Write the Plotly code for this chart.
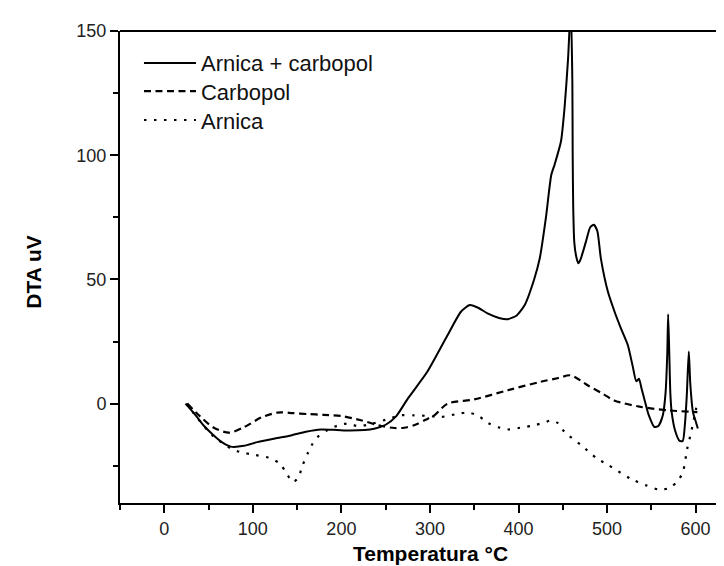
import plotly.graph_objects as go

# Arnica + carbopol (solid)
mix_t = [24, 35, 45, 55, 65, 75, 90, 105, 125, 143, 160, 177, 195, 210, 237, 250, 262, 275,
         297, 320, 335, 345, 355, 365, 378, 388, 398, 407, 418, 424, 431, 437, 441, 448, 452,
         456, 459, 460.8, 461.2, 461.8, 463, 465, 467.5, 470, 476, 481, 485, 489, 493, 501,
         508.5, 516, 523.5, 529, 533, 536, 539, 542, 547, 553.5, 558, 563, 566, 568, 569,
         570.3, 571.5, 573, 577, 582, 585.5, 588, 590, 592.3, 594, 597, 600, 602.5]
mix_v = [0, -4.5, -9, -12.5, -15.5, -17.3, -17, -15.5, -14, -12.8, -11.3, -10.4, -10.6, -10.8,
         -10.1, -8.5, -5, 2, 12.8, 27.6, 37, 39.7, 38.5, 36.3, 34.5, 34, 35.5, 39.7, 50.4, 58.5,
         75, 92, 96.5, 105.6, 119, 139, 160, 130, 100, 79, 65, 59.5, 56.5, 58, 65, 71, 72, 69.5,
         58.5, 45, 37, 30, 23.5, 15, 9, 10, 6, 2, -4.5, -9.4, -9, -4.7, 4, 20, 36, 20, 4, -3.5,
         -11, -15, -15, -8, 3, 21, 8, -3.4, -7, -10]

# Carbopol (dashed)
carb_t = [26, 40, 55, 73, 90, 110, 128, 145, 162, 180, 200, 222, 245, 260, 271, 282, 295, 305,
          320, 350, 388, 425, 445, 459, 478, 495, 508, 538, 569, 602]
carb_v = [0, -5, -9.5, -11.7, -9.5, -5.5, -3.6, -3.8, -4.2, -4.5, -5, -6.7, -9, -9.8, -9.7,
          -8.7, -6.5, -4.7, 0, 1.7, 5.4, 8.8, 10.3, 11.4, 7.4, 4, 1.3, -1.3, -2.7, -3.4]

# Arnica (dotted)
arn_t = [25, 40, 55, 75, 86, 100, 118, 130, 138, 145, 151, 156, 162, 166, 173, 185, 196, 207,
         218, 230, 250, 267, 282, 300, 312, 330, 343, 355, 365, 377, 388, 405, 418, 430, 437,
         445, 452, 471, 489, 499, 527, 545, 559, 570.6, 580, 585.6, 590.5, 595, 599, 602]
arn_v = [0, -7, -13, -18, -19.5, -20.5, -21.8, -24, -28, -31.5, -30, -25, -20, -17, -13.5,
         -10.5, -8.8, -8, -9, -8.5, -6.5, -4.7, -4.7, -5, -5.4, -4.2, -3.6, -5, -7.7, -9.5,
         -10.4, -9.5, -8.7, -7.5, -6.7, -8, -11.4, -16.8, -22.2, -24.2, -30.3, -33, -34.6,
         -33.9, -31, -27.6, -18.2, -11.4, -4.7, 0.7]

names = ["Arnica + carbopol", "Carbopol", "Arnica"]

FONT = "Liberation Sans, Arial, sans-serif"

fig = go.Figure()
fig.add_trace(go.Scatter(x=mix_t, y=mix_v, mode="lines", name=names[0], legend="legend",
                         line=dict(color="black", width=2, shape="spline", smoothing=0.6)))
fig.add_trace(go.Scatter(x=carb_t, y=carb_v, mode="lines", name=names[1], legend="legend2",
                         line=dict(color="black", width=2.2, dash="7px,4.5px", shape="spline", smoothing=0.8)))
fig.add_trace(go.Scatter(x=arn_t, y=arn_v, mode="lines", name=names[2], legend="legend3",
                         line=dict(color="black", width=2.2, dash="2.5px,7.5px", shape="spline", smoothing=0.8)))

tickfont = dict(family=FONT, size=18, color="#222")
legfont = dict(family=FONT, size=22, color="#111")


def leg(y):
    return dict(x=0.031, y=y, xanchor="left", yanchor="middle", bgcolor="rgba(0,0,0,0)",
                itemwidth=52, font=legfont)


fig.update_layout(
    width=724, height=566,
    margin=dict(l=112, r=0, t=23, b=71),
    paper_bgcolor="white", plot_bgcolor="white",
    showlegend=True,
    legend=leg(0.932), legend2=leg(0.872), legend3=leg(0.811),
    xaxis=dict(range=[-50, 641.1], showgrid=False, zeroline=False,
               showline=True, linecolor="black", linewidth=2,
               ticks="outside", ticklen=8, tickwidth=2, tickcolor="black",
               tick0=0, dtick=100, tickfont=tickfont,
               minor=dict(ticks="outside", ticklen=5, tickwidth=2, tickcolor="black", dtick=50, tick0=0)),
    yaxis=dict(range=[-40, 150], showgrid=False, zeroline=False,
               showline=True, linecolor="black", linewidth=2,
               ticks="outside", ticklen=8, tickwidth=2, tickcolor="black",
               tick0=0, dtick=50, tickfont=tickfont,
               minor=dict(ticks="outside", ticklen=5, tickwidth=2, tickcolor="black", dtick=25, tick0=0)),
    shapes=[dict(type="line", xref="paper", yref="paper", x0=0, x1=1, y0=1, y1=1,
                 line=dict(color="black", width=2))],
    annotations=[
        dict(text="<b>Temperatura °C</b>", xref="paper", yref="paper", x=0.5077, y=-0.108,
             xanchor="center", yanchor="middle", showarrow=False,
             font=dict(family=FONT, size=21, color="black")),
        dict(text="<b>DTA uV</b>", xref="paper", yref="paper", x=-0.1405, y=0.49,
             xanchor="center", yanchor="middle", showarrow=False, textangle=-90,
             font=dict(family=FONT, size=21, color="black")),
    ],
)

fig.write_html("out.html")
